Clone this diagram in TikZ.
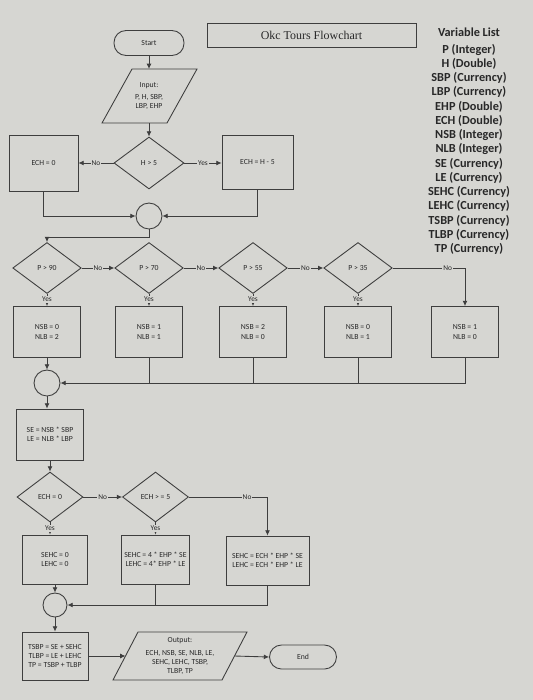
\documentclass[tikz,border=0pt]{standalone}
\usepackage{fontspec}
\setmainfont{Carlito}
\newfontfamily\titlefont{Liberation Serif}
\usetikzlibrary{positioning,calc,arrows.meta,shapes.geometric}
\definecolor{paper}{RGB}{214,214,210}
\definecolor{ink}{RGB}{62,62,62}
\definecolor{txt}{RGB}{40,40,40}
\newcommand\flowfont{\fontsize{4.4}{5.2}\selectfont}
\newcommand\lblfont{\fontsize{4.2}{5}\selectfont}
\tikzset{
  flowtext/.style={font=\flowfont, text=txt, align=center},
  box/.style={flowtext, draw=ink, line width=0.5pt, inner sep=0pt, minimum width=1.34cm, minimum height=1.02cm},
  dec/.style={flowtext, diamond, draw=ink, line width=0.5pt, inner sep=0pt, minimum width=1.37cm, minimum height=1.02cm},
  term/.style={flowtext, draw=ink, line width=0.5pt, rounded corners=0.24cm, minimum width=1.4cm, minimum height=0.5cm},
  joint/.style={circle, draw=ink, line width=0.5pt, minimum size=0.52cm, inner sep=0pt},
  link/.style={draw=ink, line width=0.5pt},
  flow/.style={link, -{Latex[length=3pt,width=2.8pt]}},
  lbl/.style={font=\lblfont, text=txt, fill=paper, inner sep=0.6pt}
}
\begin{document}
\begin{tikzpicture}[x=0.02cm, y=-0.02cm]
  \fill[paper] (0,0) rectangle (533,700);
  \useasboundingbox (0,0) rectangle (533,700);

  % title and variables
  \node[draw=ink, line width=0.5pt, minimum width=4.18cm, minimum height=0.48cm, text=txt,
        font=\titlefont\fontsize{6.8}{8}\selectfont] (title) at (311.5,35) {Okc Tours Flowchart};
  \node[text=txt, align=center, font=\bfseries\fontsize{7}{8.1}\selectfont] (vars) at (469,141) {Variable List\\[1.6pt]
    P (Integer)\\H (Double)\\SBP (Currency)\\LBP (Currency)\\EHP (Double)\\ECH (Double)\\
    NSB (Integer)\\NLB (Integer)\\SE (Currency)\\LE (Currency)\\SEHC (Currency)\\LEHC (Currency)\\
    TSBP (Currency)\\TLBP (Currency)\\TP (Currency)};

  % start, input, hours check
  \node[term] (start) at (149,43) {Start};
  \node[flowtext] (input) at (149,96) {Input:\\[1.5pt]P, H, SBP,\\LBP, EHP};
  \draw[link] ($(input)+(-17,-27)$) -- ++(65,0) -- ++(-30,54) -- ++(-65,0) -- cycle;
  \coordinate (intop) at ($(input)+(0,-27)$);
  \coordinate (inbot) at ($(input)+(0,27)$);
  \node[dec, minimum width=1.4cm, minimum height=1.04cm] (hchk) at (149,163) {H > 5};
  \node[box, minimum width=1.38cm, minimum height=1.12cm] (echz) at (43.5,163) {ECH = 0};
  \node[box, minimum width=1.42cm, minimum height=1.08cm] (echh) at (257.5,162) {ECH = H - 5};
  \node[joint] (m1) at (149,216) {};

  \draw[flow] (start) -- (intop);
  \draw[flow] (inbot) -- (hchk);
  \draw[flow] (hchk.west) -- node[lbl]{No} (hchk.west -| echz.east);
  \draw[flow] (hchk.east) -- node[lbl]{Yes} (hchk.east -| echh.west);
  \draw[flow] (echz.south) |- (m1.west);
  \draw[flow] (echh.south) |- (m1.east);

  % price checks
  \foreach \n/\x/\v in {p90/47/90, p70/149/70, p55/253/55, p35/358/35}
    \node[dec] (\n) at (\x,268) {P > \v};
  \foreach \n/\x/\s/\l in {b1/47/0/2, b2/149/1/1, b3/253/2/0, b4/358/0/1, b5/465/1/0}
    \node[box] (\n) at (\x,332) {NSB = \s\\NLB = \l};
  \draw[flow] (m1.south) -- ++(0,8) -| (p90.north);
  \foreach \a/\b in {p90/p70, p70/p55, p55/p35}
    \draw[flow] (\a) -- node[lbl]{No} (\b);
  \draw[flow] (p35.east) -| node[lbl, pos=0.38]{No} (b5.north);
  \foreach \d/\b in {p90/b1, p70/b2, p55/b3, p35/b4}
    \draw[flow] (\d) -- node[lbl, pos=0.45]{Yes} (\b);

  \node[joint] (m2) at (47,383) {};
  \draw[flow] (b1) -- (m2);
  \draw[flow] (b5.south) |- (m2.east);
  \foreach \b in {b2, b3, b4}
    \draw[link] (\b.south) -- (\b.south |- m2.east);

  % extra hours
  \node[box] (se) at (50,434.5) {SE = NSB * SBP\\LE = NLB * LBP};
  \node[dec, minimum width=1.32cm, minimum height=1cm] (ecz) at (50,497) {ECH = 0};
  \node[dec, minimum width=1.32cm, minimum height=1cm] (ecf) at (155.5,497) {ECH > = 5};
  \node[box, minimum width=1.3cm, minimum height=0.98cm] (sh1) at (55,559.5) {SEHC = 0\\LEHC = 0};
  \node[box, minimum width=1.36cm, minimum height=0.98cm] (sh2) at (155.5,559.5) {SEHC = 4 * EHP * SE\\LEHC = 4* EHP * LE};
  \node[box, minimum width=1.66cm, minimum height=0.98cm] (sh3) at (267.5,560.5) {SEHC = ECH * EHP * SE\\LEHC = ECH * EHP * LE};

  \draw[flow] (m2.south) -- (m2.south |- se.north);
  \draw[flow] (se) -- (ecz);
  \draw[flow] (ecz) -- node[lbl]{No} (ecf);
  \draw[flow] (ecf.east) -| node[lbl, pos=0.37]{No} (sh3.north);
  \draw[flow] (ecz.south) -- node[lbl, pos=0.5]{Yes} (ecz.south |- sh1.north);
  \draw[flow] (ecf) -- node[lbl, pos=0.5]{Yes} (sh2);

  \node[joint, minimum size=0.48cm] (m3) at (55,605) {};
  \draw[flow] (sh1) -- (m3);
  \draw[flow] (sh3.south) |- (m3.east);
  \draw[link] (sh2.south) -- (sh2.south |- m3.east);

  % totals, output, end
  \node[box, minimum width=1.32cm, minimum height=0.96cm] (tot) at (55,656) {TSBP = SE + SEHC\\TLBP = LE + LEHC\\TP = TSBP + TLBP};
  \node[flowtext] (out) at (180,656) {Output:\\[2pt]ECH, NSB, SE, NLB, LE,\\SEHC, LEHC, TSBP,\\TLBP, TP};
  \draw[link] ($(out)+(-42,-24)$) -- ++(109,0) -- ++(-25,48) -- ++(-109,0) -- cycle;
  \coordinate (outl) at ($(out)+(-54.5,0)$);
  \coordinate (outr) at ($(out)+(54.5,0)$);
  \node[term, minimum width=1.34cm, minimum height=0.48cm] (fin) at (303,657) {End};

  \draw[flow] (m3) -- (tot);
  \draw[flow] (tot.east) -- (outl);
  \draw[flow] (outr) -- (fin.west);
\end{tikzpicture}
\end{document}
